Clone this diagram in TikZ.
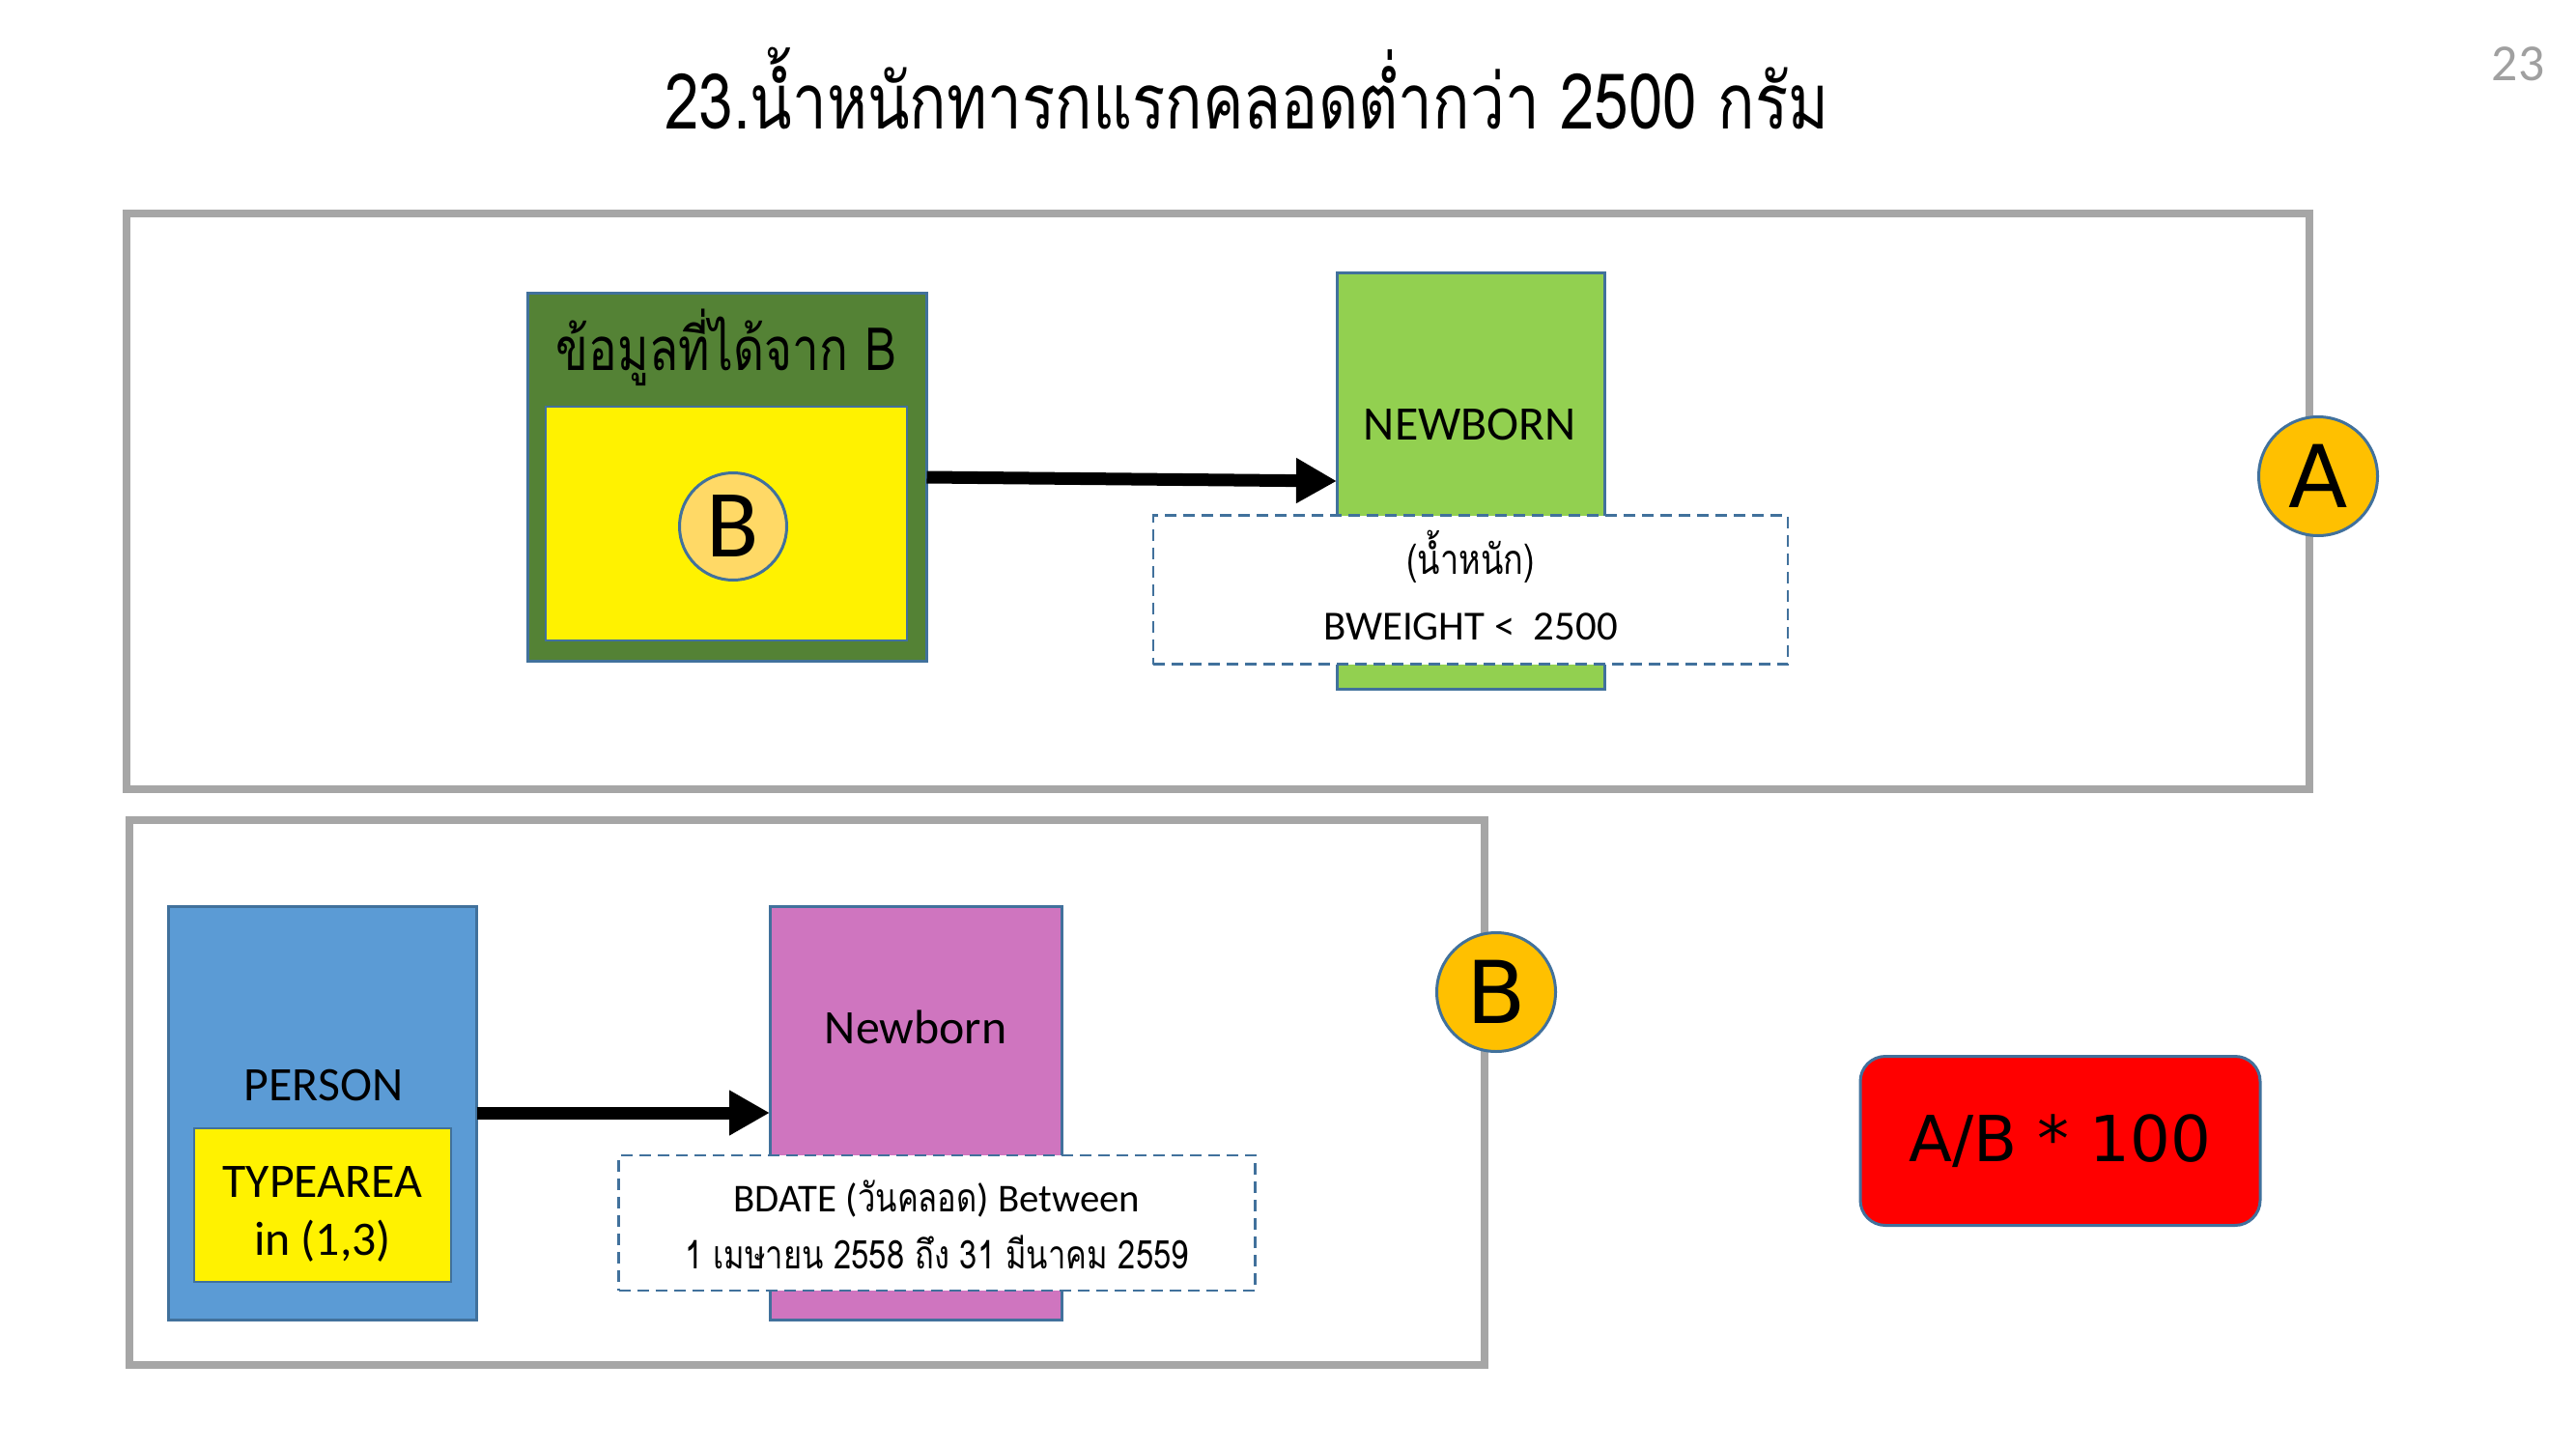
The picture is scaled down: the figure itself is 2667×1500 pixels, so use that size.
\documentclass[tikz,border=0pt]{standalone}
\usepackage{fontspec}
\setmainfont{Carlito}
\newfontfamily\thai[Script=Thai,FakeStretch=0.8]{Loma}
\newfontfamily\tahoma{DejaVu Sans}
\usetikzlibrary{arrows.meta, positioning}
\definecolor{frm}{HTML}{A6A6A6}
\definecolor{edge}{HTML}{41719C}
\definecolor{dkgreen}{HTML}{548235}
\definecolor{ltgreen}{HTML}{92D050}
\definecolor{tagor}{HTML}{FFC000}
\definecolor{ltor}{HTML}{FFD966}
\definecolor{pblue}{HTML}{5B9BD5}
\definecolor{pmag}{HTML}{CF75BF}
\definecolor{pgnum}{HTML}{A0A0A0}

\begin{document}
\begin{tikzpicture}[x=1bp,y=-1bp,
  frame/.style={draw=frm,line width=8bp},
  box/.style={draw=edge,line width=3bp,inner sep=0pt,outer sep=0pt},
  cond/.style={draw=edge,dash pattern=on 12bp off 7bp,line width=2.5bp,fill=white,inner sep=0pt,outer sep=0pt,align=center},
  tag/.style={circle,draw=edge,line width=3bp,fill=tagor,minimum size=123bp,inner sep=0pt,font=\tahoma\fontsize{90}{90}\selectfont},
  lbl/.style={font=\fontsize{50}{60}\selectfont},
  bigarrow/.style={line width=13bp,-{Triangle[length=42bp,width=44bp]}}]
  \useasboundingbox[fill=white] (0,0) rectangle (2667,1500);
  \node (title) at (1291,91) {\thai\fontsize{80}{80}\selectfont 23.น้ำหนักทารกแรกคลอดต่ำกว่า 2500 กรัม};
  \node[text=pgnum,font=\fontsize{54}{54}\selectfont] (pageno) at (2607,66) {23};
  \draw[frame] (131,221) rectangle (2391,817); %A
  \draw[frame] (134,849) rectangle (1537,1413); %B
  % A
  \node[box,fill=dkgreen,minimum width=413bp,minimum height=381bp] (srcB) at (753,494) {};
  \node[font=\thai\fontsize{62}{62}\selectfont] at (752,360) {ข้อมูลที่ได้จาก B};
  \node[box,line width=2bp,fill=yellow,minimum width=374bp,minimum height=242bp] (yelB) at (752,542) {};
  \node[box,circle,fill=ltor,minimum size=111bp,font=\fontsize{100}{100}\selectfont] (circB) at (759,545) {B};
  \node[box,fill=ltgreen,minimum width=277bp,minimum height=430bp] (nbA) at (1522.5,498) {};
  \node[lbl] at (1522,440) {NEWBORN};
  \node[cond,minimum width=657bp,minimum height=154bp,font=\fontsize{43}{68}\selectfont] (condA) at (1522.5,610.5)
    {{\thai(น้ำหนัก)}\\BWEIGHT <\ \ 2500\rule[-10bp]{0pt}{1bp}};
  \draw[bigarrow] (srcB.east) -- (nbA.west);
  \node[tag] (circA) at (2400,493) {A};
  % B
  \node[box,fill=pblue,minimum width=319bp,minimum height=428bp] (person) at (334,1152) {};
  \node[lbl] at (335,1123) {PERSON};
  \node[box,line width=2bp,fill=yellow,minimum width=266bp,minimum height=159bp,align=center,font=\fontsize{50}{60}\selectfont] (tarea) at (334,1247)
    {\rule{0pt}{52bp}TYPEAREA\\in (1,3)};
  \node[box,fill=pmag,minimum width=302bp,minimum height=428bp] (nbB) at (948,1152) {};
  \node[lbl] at (948,1063) {Newborn};
  \node[cond,minimum width=659bp,minimum height=140bp,font=\fontsize{41}{60}\selectfont] (condB) at (970,1266)
    {\rule{0pt}{36bp}BDATE ({\thai วันคลอด}) Between\\{\thai\fontsize{41}{60}\selectfont 1 เมษายน 2558 ถึง 31 มีนาคม 2559}};
  \draw[bigarrow] (person.east) -- (nbB.west);
  \node[tag] (circBig) at (1549,1027) {B};
  % A/B
  \node[box,fill=red,rounded corners=26bp,minimum width=414bp,minimum height=175bp,font=\tahoma\fontsize{66}{66}\selectfont] (ratio) at (2133,1181) {A/B * 100};
\end{tikzpicture}
\end{document}
